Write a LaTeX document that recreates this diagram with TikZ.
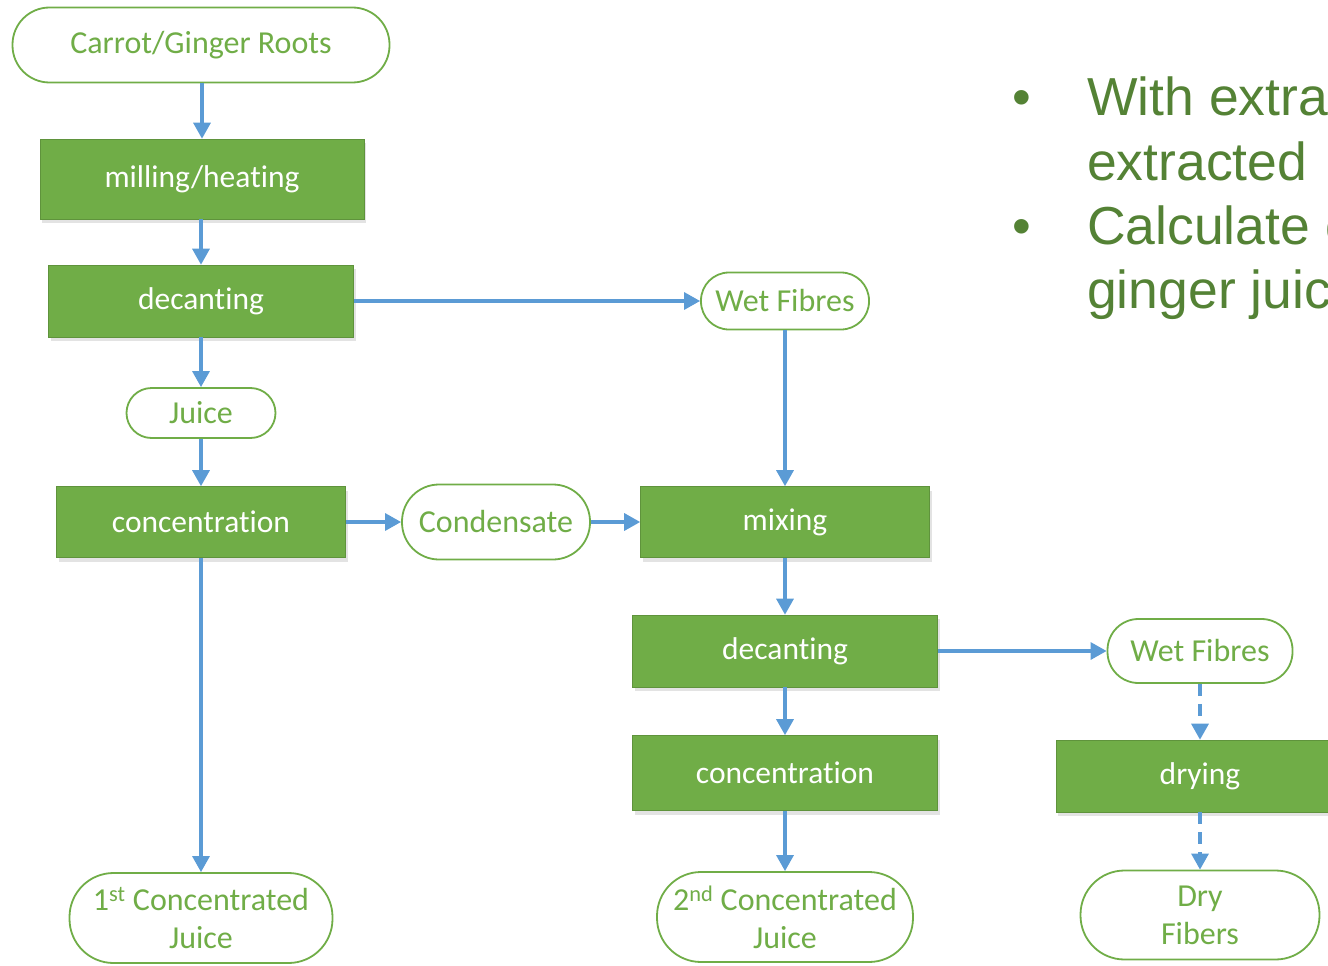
\documentclass[tikz,border=0pt]{standalone}
\usepackage{fontspec}
\setmainfont{Carlito}[Ligatures=NoCommon]
\newfontfamily\arialf{Liberation Sans}
\usetikzlibrary{arrows.meta,shadows}
\definecolor{pgreen}{HTML}{70AD47}
\definecolor{dgreen}{HTML}{548235}
\definecolor{ablue}{HTML}{5B9BD5}
\begin{document}
\begin{tikzpicture}[x=1pt,y=-1pt,
  proc/.style={fill=pgreen,draw=pgreen!85!black,line width=0.6pt,text=white,font=\fontsize{31.5}{36}\selectfont,
    inner sep=0pt,drop shadow={shadow xshift=2pt,shadow yshift=-4pt,opacity=0.18,fill=black!60}},
  term/.style={draw=pgreen,line width=1.8pt,fill=white,text=pgreen,rounded corners=#1,
    font=\fontsize{32}{38}\selectfont,inner sep=0pt,align=center},
  arr/.style={draw=ablue,line width=3.2pt,-{Triangle[length=16pt,width=17pt]}},
  darr/.style={arr,dash pattern=on 12pt off 8pt}]
\useasboundingbox (0,0) rectangle (1328,966);
\clip (0,0) rectangle (1328,966);
% terminals
\node[term=37pt,minimum width=377pt,minimum height=75pt] (roots) at (201,45) {Carrot/Ginger Roots};
\node[term=25pt,minimum width=149pt,minimum height=50pt] (juice) at (201,413) {Juice};
\node[term=37pt,minimum width=188pt,minimum height=75pt] (cond) at (496,522) {Condensate};
\node[term=28pt,minimum width=168pt,minimum height=57pt] (wet1) at (785,301) {Wet Fibres};
\node[term=31pt,minimum width=185pt,minimum height=64pt] (wet2) at (1200,651) {Wet Fibres};
\node[term=44pt,minimum width=239pt,minimum height=89pt] (dry) at (1200,915) {Dry\\Fibers};
\node[term=44pt,minimum width=263pt,minimum height=90pt] (cj1) at (201,918) {1\textsuperscript{st} Concentrated\\Juice};
\node[term=44pt,minimum width=256pt,minimum height=90pt] (cj2) at (785,917) {2\textsuperscript{nd} Concentrated\\Juice};
% processes
\node[proc,minimum width=324pt,minimum height=80pt] (mill) at (202,179) {milling/heating};
\node[proc,minimum width=305pt,minimum height=72pt] (dec1) at (201,301) {decanting};
\node[proc,minimum width=289pt,minimum height=71pt] (conc1) at (201,522) {concentration};
\node[proc,minimum width=289pt,minimum height=71pt] (mix) at (785,522) {mixing};
\node[proc,minimum width=305pt,minimum height=72pt] (dec2) at (785,651) {decanting};
\node[proc,minimum width=305pt,minimum height=75pt] (conc2) at (785,773) {concentration};
\node[proc,minimum width=288pt,minimum height=72pt] (dry1) at (1200,776) {drying};
% connectors
\draw[arr] (roots.south -| mill.north) -- (mill.north);
\draw[arr] (mill.south -| dec1.north) -- (dec1.north);
\draw[arr] (dec1.south) -- (juice.north);
\draw[arr] (juice.south) -- (conc1.north);
\draw[arr] (conc1.south) -- (cj1.north);
\draw[arr] (dec1.east) -- (wet1.west);
\draw[arr] (conc1.east) -- (cond.west);
\draw[arr] (cond.east) -- (mix.west);
\draw[arr] (wet1.south) -- (mix.north);
\draw[arr] (mix.south) -- (dec2.north);
\draw[arr] (dec2.south) -- (conc2.north);
\draw[arr] (conc2.south) -- (cj2.north);
\draw[arr] (dec2.east) -- (wet2.west);
\draw[darr] (wet2.south) -- (dry1.north);
\draw[darr] (dry1.south) -- (dry.north);
% bullet text
\begin{scope}[every node/.style={anchor=base west,inner sep=0pt,text=dgreen,font=\arialf\fontsize{53.5}{64}\selectfont}]
\node (b1) at (1012,115) {\textbullet};
\node (t1) at (1087,115) {With extra};
\node (t2) at (1087,180) {extracted};
\node (b2) at (1012,244) {\textbullet};
\node (t3) at (1087,244) {Calculate c};
\node (t4) at (1087,308) {ginger juic};
\end{scope}
\end{tikzpicture}
\end{document}
